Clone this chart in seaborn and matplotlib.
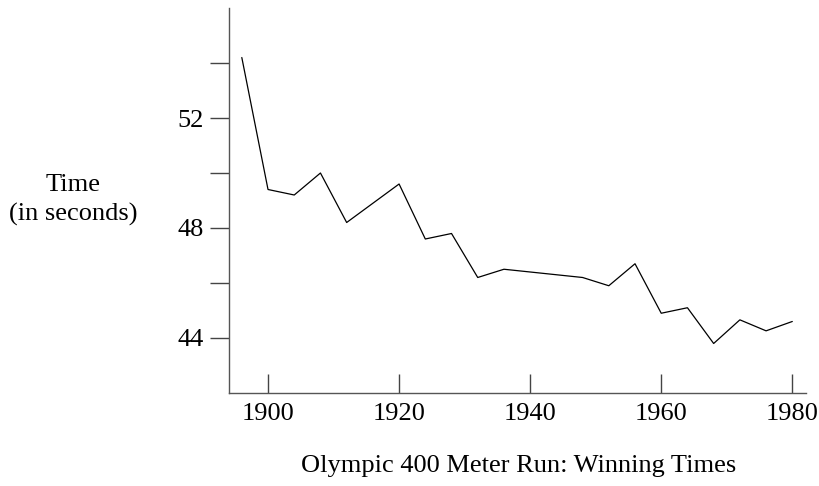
import matplotlib
matplotlib.use("Agg")
import matplotlib.pyplot as plt
import pandas as pd
import seaborn as sns

# Olympic 400 m winning times
years = [1896, 1900, 1904, 1908, 1912, 1920, 1924, 1928, 1932, 1936,
         1948, 1952, 1956, 1960, 1964, 1968, 1972, 1976, 1980]
times = [54.2, 49.4, 49.2, 50.0, 48.2, 49.6, 47.6, 47.8, 46.2, 46.5,
         46.2, 45.9, 46.7, 44.9, 45.1, 43.8, 44.66, 44.26, 44.6]

x_ticks = [1900, 1920, 1940, 1960, 1980]
y_ticks = [44, 46, 48, 50, 52, 54]
y_labels = ["44", "", "48", "", "52", ""]

data = pd.DataFrame({"year": years, "time": times})

sns.set_theme(style="ticks")
plt.rcParams["font.family"] = ["Liberation Serif", "DejaVu Serif"]
plt.rcParams["text.color"] = "black"
plt.rcParams["xtick.labelcolor"] = "black"
plt.rcParams["ytick.labelcolor"] = "black"

fig = plt.figure(figsize=(8.2, 4.86), dpi=100)
ax = fig.add_axes([0.2793, 0.1914, 0.983 - 0.2793, 0.9835 - 0.1914])

sns.lineplot(data=data, x="year", y="time", color="black", linewidth=0.9, ax=ax)

ax.set_xlim(1894.05, 1982.1)
ax.set_ylim(42, 56)
ax.set_xticks(x_ticks)
ax.set_yticks(y_ticks)
ax.set_yticklabels(y_labels)
ax.tick_params(axis="x", direction="in", length=14, width=1, color="#444444",
               labelsize=19, pad=7, labelcolor="black")
ax.tick_params(axis="y", direction="out", length=14, width=1, color="#444444",
               labelsize=19, pad=4, labelcolor="black")

sns.despine(ax=ax)
for side in ["left", "bottom"]:
    ax.spines[side].set_color("#555555")
    ax.spines[side].set_linewidth(1)

ax.set_xlabel("")
ax.set_ylabel("")
fig.text(0.089, 0.588, "Time\n(in seconds)", ha="center", va="center",
         fontsize=19, linespacing=1.4)
fig.text(0.632, 0.041, "Olympic 400 Meter Run: Winning Times", ha="center",
         va="center", fontsize=19)

fig.savefig("out.png", dpi=100)
